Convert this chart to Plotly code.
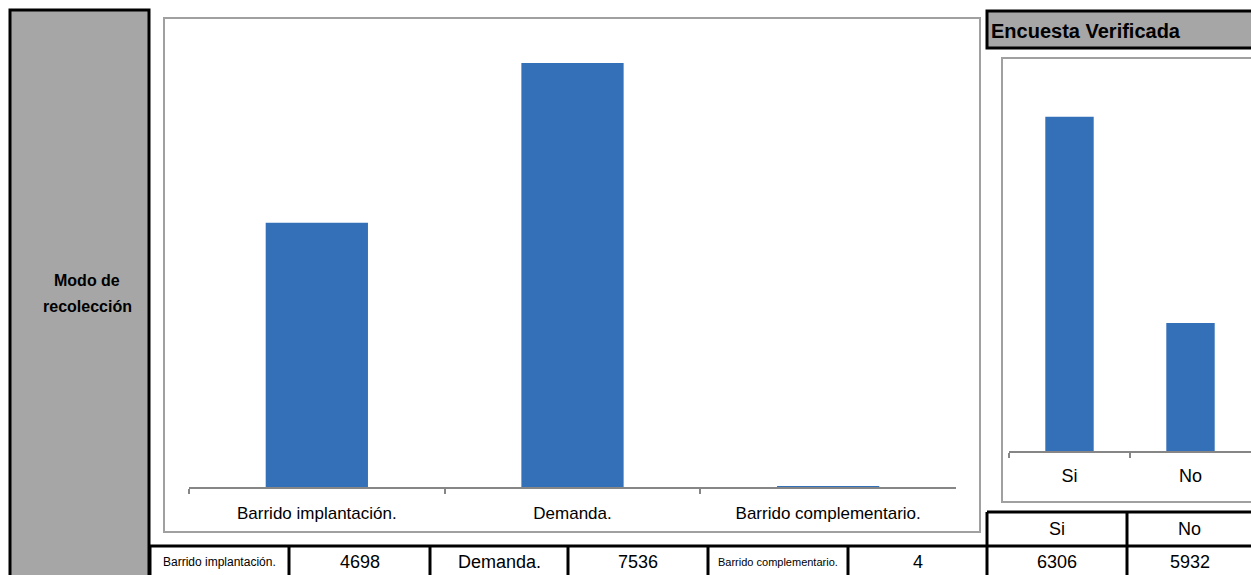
import plotly.graph_objects as go

# Data
modo_cats = ["Barrido implantación.", "Demanda.", "Barrido complementario."]
modo_vals = [4698, 7536, 4]
verif_cats = ["Si", "No"]
verif_vals = [6306, 5932]

W, H = 1251, 575
BAR = "#3470B8"
AXIS = "#868686"
FONT = "Liberation Sans, Arial, sans-serif"


def fx(x):
    return x / W


def fy(y):
    return 1 - y / H


fig = go.Figure()

fig.add_trace(go.Bar(x=modo_cats, y=modo_vals, marker=dict(color=BAR, line=dict(width=0)),
                     xaxis="x", yaxis="y", hoverinfo="x+y"))
fig.add_trace(go.Bar(x=verif_cats, y=verif_vals, marker=dict(color=BAR, line=dict(width=0)),
                     xaxis="x2", yaxis="y2", hoverinfo="x+y"))

shapes = []
annotations = []


def rect(x0, y0, x1, y1, fill=None, color="black", width=3, layer="above"):
    shapes.append(dict(type="rect", xref="paper", yref="paper",
                       x0=fx(x0), x1=fx(x1), y0=fy(y1), y1=fy(y0),
                       fillcolor=fill or "rgba(0,0,0,0)",
                       line=dict(color=color, width=width), layer=layer))


def text(x, y, s, size=16, bold=False, xanchor="center"):
    if bold:
        s = f"<b>{s}</b>"
    annotations.append(dict(x=fx(x), y=fy(y), xref="paper", yref="paper", text=s,
                            showarrow=False, xanchor=xanchor, yanchor="middle",
                            font=dict(family=FONT, size=size, color="black")))


# chart frames (light gray borders)
rect(164, 18, 980, 532, color="#A0A0A0", width=2, layer="below")
rect(1002, 58, 1262, 502, color="#A0A0A0", width=2, layer="below")

# left gray label cell
rect(10, 10, 149, 590, fill="#A6A6A6", layer="below")
text(87, 281, "Modo de", size=16, bold=True)
text(87, 306, "recolección", size=16, bold=True)

# "Encuesta Verificada" header cell
rect(987, 11, 1262, 48, fill="#A6A6A6", layer="below")
text(989, 31, "Encuesta Verificada", size=20, bold=True, xanchor="left")

# table: bottom row with categories and values
cols = [150, 289, 430, 568, 708, 848, 987, 1127, 1266]
shapes.append(dict(type="line", xref="paper", yref="paper", x0=fx(150), x1=1,
                   y0=fy(546), y1=fy(546), line=dict(color="black", width=3)))
shapes.append(dict(type="line", xref="paper", yref="paper", x0=fx(987), x1=1,
                   y0=fy(512), y1=fy(512), line=dict(color="black", width=3)))
for c in cols[:-1]:
    top = 512 if c >= 987 else 546
    shapes.append(dict(type="line", xref="paper", yref="paper", x0=fx(c), x1=fx(c),
                       y0=fy(top), y1=0, line=dict(color="black", width=3)))

label_sizes = [12, 18, 11]
for i, (cat, val) in enumerate(zip(modo_cats, modo_vals)):
    c0, c1, c2 = cols[2 * i], cols[2 * i + 1], cols[2 * i + 2]
    text((c0 + c1) / 2, 562, cat, size=label_sizes[i])
    text((c1 + c2) / 2, 562, f"{val}", size=18)
for j, (cat, val) in enumerate(zip(verif_cats, verif_vals)):
    c0, c1 = cols[6 + j], cols[7 + j]
    cx = (c0 + min(c1, 1252)) / 2
    text(cx, 529, cat, size=18)
    text(cx, 562, f"{val}", size=18)

fig.update_layout(
    width=W, height=H,
    margin=dict(l=0, r=0, t=0, b=0),
    paper_bgcolor="white", plot_bgcolor="rgba(0,0,0,0)",
    showlegend=False, bargap=0.6,
    font=dict(family=FONT, color="black"),
    xaxis=dict(domain=[fx(189), fx(956)], anchor="y", type="category",
               tickson="boundaries", ticks="outside", ticklen=5, tickcolor=AXIS,
               tickwidth=1.5, showline=True, linecolor=AXIS, linewidth=1.5,
               showgrid=False, tickfont=dict(size=17, color="black"),
               ticklabelstandoff=10, fixedrange=True),
    yaxis=dict(domain=[fy(487), fy(37)], range=[0, 8000], visible=False,
               fixedrange=True),
    xaxis2=dict(domain=[fx(1009), 1.0], anchor="y2", type="category",
                tickson="boundaries", ticks="outside", ticklen=5, tickcolor=AXIS,
                tickwidth=1.5, showline=True, linecolor=AXIS, linewidth=1.5,
                showgrid=False, tickfont=dict(size=18, color="black"),
                ticklabelstandoff=8, fixedrange=True),
    yaxis2=dict(domain=[fy(451), fy(65)], range=[5700, 6400], visible=False,
                fixedrange=True),
    shapes=shapes,
    annotations=annotations,
)

# drop the page's default body margin so the figure fills the window exactly
fig.write_html("out.html", config={"displayModeBar": False},
               post_script="document.body.style.margin='0';"
                           "document.body.style.overflow='hidden';")
